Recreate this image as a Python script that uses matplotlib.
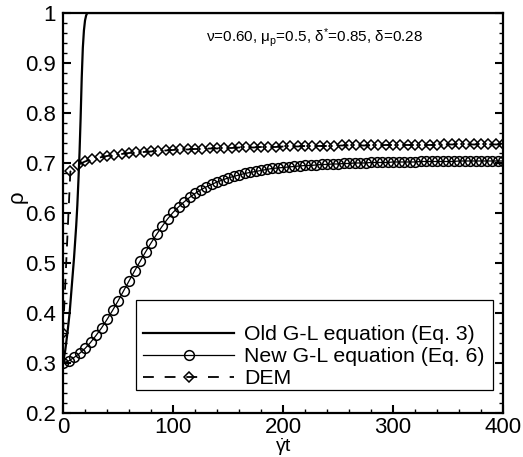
import numpy as np
import matplotlib
matplotlib.use("Agg")
import matplotlib.pyplot as plt
from matplotlib.ticker import MultipleLocator, FuncFormatter
from matplotlib.patches import Rectangle

plt.rcParams['font.family'] = ['Liberation Sans', 'DejaVu Sans']
plt.rcParams['mathtext.fontset'] = 'custom'
plt.rcParams['mathtext.rm'] = 'Liberation Sans'
plt.rcParams['mathtext.it'] = 'Liberation Sans'

# Old G-L equation (Eq. 3)
t_old = [0, 2, 4, 6, 8, 10, 12, 13, 14, 15, 16, 17, 18, 19, 20, 21, 22, 400]
rho_old = [0.300, 0.325, 0.360, 0.400, 0.455, 0.510, 0.575, 0.615, 0.665, 0.720,
           0.790, 0.870, 0.930, 0.965, 0.985, 0.995, 1.000, 1.000]

# New G-L equation (Eq. 6), every 5 units
t_new = np.arange(0, 401, 5)
rho_new = [0.300, 0.304, 0.311, 0.319, 0.329, 0.341, 0.355, 0.370, 0.387, 0.405,
           0.424, 0.444, 0.464, 0.484, 0.503, 0.522, 0.540, 0.557, 0.573, 0.588,
           0.601, 0.612, 0.622, 0.631, 0.639, 0.646, 0.652, 0.657, 0.662, 0.666,
           0.670, 0.673, 0.676, 0.679, 0.681, 0.683, 0.685, 0.687, 0.689, 0.690,
           0.691, 0.692, 0.693, 0.694, 0.695, 0.695, 0.696, 0.697, 0.697, 0.698,
           0.698, 0.699, 0.699, 0.700, 0.700, 0.700, 0.701, 0.701, 0.701, 0.701,
           0.702, 0.702, 0.702, 0.702, 0.702, 0.703, 0.703, 0.703, 0.703, 0.703,
           0.703, 0.703, 0.704, 0.704, 0.704, 0.704, 0.704, 0.704, 0.704, 0.704,
           0.704]

# DEM
t_dem = np.linspace(0, 400, 61)
rho_dem = [0.360, 0.683, 0.696, 0.703, 0.708, 0.711, 0.714, 0.716, 0.718, 0.720,
           0.721, 0.722, 0.723, 0.724, 0.725, 0.726, 0.727, 0.727, 0.728, 0.728,
           0.729, 0.729, 0.730, 0.730, 0.731, 0.731, 0.731, 0.732, 0.732, 0.732,
           0.733, 0.733, 0.733, 0.734, 0.734, 0.734, 0.734, 0.734, 0.735, 0.735,
           0.735, 0.735, 0.735, 0.735, 0.736, 0.736, 0.736, 0.736, 0.736, 0.736,
           0.736, 0.736, 0.737, 0.737, 0.737, 0.737, 0.737, 0.737, 0.737, 0.737,
           0.737]

labels = ["Old G-L equation (Eq. 3)", "New G-L equation (Eq. 6)", "DEM"]

fig = plt.figure(figsize=(5.23, 4.57), dpi=100)
ax = fig.add_axes([0.1205, 0.0963, 0.8413, 0.8753])

l2, = ax.plot(t_new, rho_new, color='black', lw=0.9, marker='o', ms=7,
              mfc='none', mec='black', mew=1.1, label=labels[1])
l3, = ax.plot(t_dem, rho_dem, color='black', lw=1.3, dashes=(6, 6), marker='D',
              ms=5.2, mfc='none', mec='black', mew=1.1, label=labels[2])
l1, = ax.plot(t_old, rho_old, color='black', lw=1.6, label=labels[0])

ax.set_xlim(0, 400)
ax.set_ylim(0.2, 1.0)
ax.xaxis.set_major_locator(MultipleLocator(100))
ax.xaxis.set_minor_locator(MultipleLocator(20))
ax.yaxis.set_major_locator(MultipleLocator(0.1))
ax.yaxis.set_minor_locator(MultipleLocator(0.02))
fmt = FuncFormatter(lambda v, p: '%g' % round(v, 3))
ax.xaxis.set_major_formatter(fmt)
ax.yaxis.set_major_formatter(fmt)

for s in ax.spines.values():
    s.set_linewidth(1.6)
ax.tick_params(which='both', direction='in', top=False, right=True)
ax.tick_params(which='major', length=5.5, width=1.5, labelsize=16)
ax.tick_params(which='minor', length=3, width=1)
ax.tick_params(axis='y', which='major', pad=5)
ax.tick_params(axis='x', which='major', pad=3)

ax.set_xlabel(r'$\dot{\gamma}t$', fontsize=14)
ax.xaxis.set_label_coords(0.5, -0.058)
ax.xaxis.label.set_va('top')
ax.set_ylabel('ρ', fontsize=16)
ax.yaxis.set_label_coords(-0.08, 0.54)

ax.text(0.818, 0.9275,
        r'ν=0.60, μ$_\mathregular{p}$=0.5, δ$^\mathregular{*}$=0.85, δ=0.28',
        transform=ax.transAxes, ha='right', va='baseline', fontsize=11)

# legend box
ax.add_patch(Rectangle((0.166, 0.0575), 0.811, 0.225, transform=ax.transAxes,
                       fill=True, facecolor='white', edgecolor='black', lw=0.9,
                       zorder=4))
leg = ax.legend(handles=[l1, l2, l3], loc='upper left',
                bbox_to_anchor=(0.1818, 0.22), frameon=False, fontsize=15.3,
                handlelength=4.3, handletextpad=0.45, labelspacing=0.15,
                borderpad=0, borderaxespad=0, numpoints=1)
leg.set_zorder(5)

fig.savefig('out.png', dpi=100)
